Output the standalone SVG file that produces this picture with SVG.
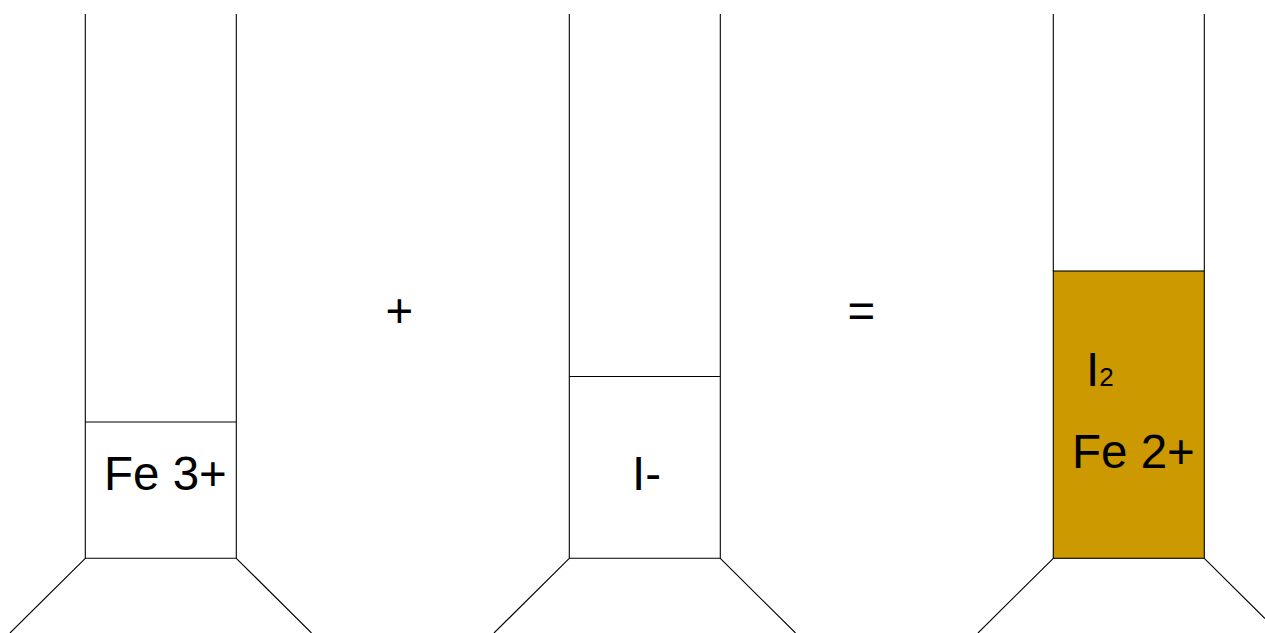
<svg xmlns="http://www.w3.org/2000/svg" width="1265" height="633" viewBox="0 0 1265 633">
<style>
.l{fill:none;stroke:#000;stroke-width:1.1}
text{font-family:"Liberation Sans",Arial,sans-serif;fill:#000}
.t{font-size:47.500px}
</style>
<rect width="1265" height="633" fill="#fff"/>
<g id="tube1">
<path class="l" d="M85.300 14V558.300H236.300V14M85.300 422H236.300M85.300 558.300L10 633M236.300 558.300L311.500 633"/>
<text class="t" x="104" y="489.500">Fe 3+</text>
</g>
<g id="plus"><text class="t" x="385.500" y="326.500">+</text></g>
<g id="tube2">
<path class="l" d="M569.300 14V558.300H720.300V14M569.300 376.500H720.300M569.300 558.300L494 633M720.300 558.300L795.500 633"/>
<text class="t" x="632" y="489.500">I-</text>
</g>
<g id="equals"><text class="t" x="847.500" y="326.500">=</text></g>
<g id="tube3">
<rect x="1053.300" y="271" width="151" height="287.300" fill="#cc9900" stroke="#000" stroke-width="1.100"/>
<path class="l" d="M1053.300 14V271M1204.300 14V271M1053.300 558.300L978 633M1204.300 558.300L1265 618.500"/>
<text class="t" x="1086" y="385.500">I<tspan font-size="26">2</tspan></text>
<text class="t" x="1072" y="467.500">Fe 2+</text>
</g>
</svg>
